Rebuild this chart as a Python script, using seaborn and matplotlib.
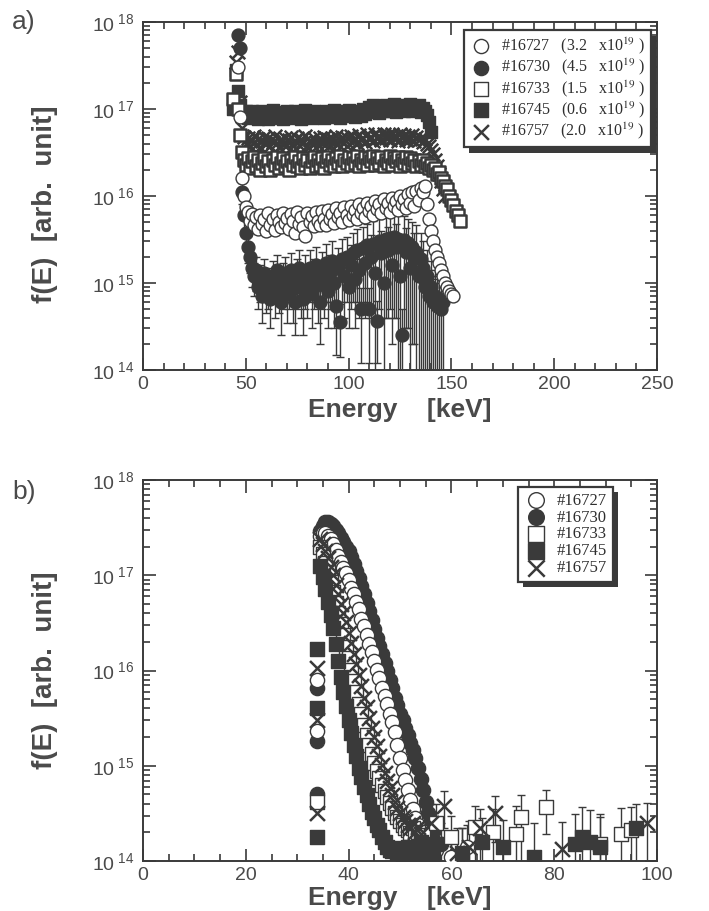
import pandas as pd
import seaborn as sns
import matplotlib.pyplot as plt
import matplotlib.patheffects as pe
from matplotlib.ticker import MultipleLocator, LogLocator, NullFormatter

# shots and line densities (x10^19)
shots = ["#16727", "#16730", "#16733", "#16745", "#16757"]
density = ["3.2", "4.5", "1.5", "0.6", "2.0"]

y_ticks = [1e14, 1e15, 1e16, 1e17, 1e18]
y_ticklabels = [r"10$^{\ 14}$", r"10$^{\ 15}$", r"10$^{\ 16}$", r"10$^{\ 17}$", r"10$^{\ 18}$"]

# ---------------- panel a) ----------------
a_grid = [44, 45, 46, 47, 48, 49,
          50, 51, 52, 53, 54, 55, 56, 57, 58, 59,
          60, 61, 62, 63, 64, 65, 66, 67, 68, 69,
          70, 71, 72, 73, 74, 75, 76, 77, 78, 79,
          80, 81, 82, 83, 84, 85, 86, 87, 88, 89,
          90, 91, 92, 93, 94, 95, 96, 97, 98, 99,
          100, 101, 102, 103, 104, 105, 106, 107, 108, 109,
          110, 111, 112, 113, 114, 115, 116, 117, 118, 119,
          120, 121, 122, 123, 124, 125, 126, 127, 128, 129,
          130, 131, 132, 133, 134, 135, 136, 137, 138, 139,
          140, 141, 142, 143, 144, 145, 146, 147, 148, 149,
          150, 151, 152, 153, 154]

a_E_16727 = a_grid[2:108]
a_f_16727 = [3.0e17, 8.0e16, 1.6e16, 1.0e16, 7.5e15,
             6.5e15, 5.2e15, 6.2e15, 4.6e15, 5.8e15, 4.2e15, 6.0e15, 4.8e15, 5.5e15, 4.0e15,
             6.3e15, 4.7e15, 5.4e15, 4.1e15, 6.1e15, 5.0e15, 4.4e15, 6.4e15, 4.9e15, 5.6e15,
             4.2e15, 6.2e15, 5.1e15, 3.8e15, 6.5e15, 4.8e15, 5.7e15, 4.4e15, 3.5e15, 6.3e15,
             5.0e15, 5.9e15, 4.5e15, 6.6e15, 5.2e15, 4.6e15, 6.8e15, 5.4e15, 4.7e15, 6.9e15,
             5.5e15, 6.2e15, 4.9e15, 7.2e15, 5.7e15, 6.4e15, 5.0e15, 7.5e15, 6.0e15, 5.3e15,
             7.6e15, 6.1e15, 6.9e15, 5.5e15, 8.0e15, 6.4e15, 7.2e15, 5.8e15, 8.4e15, 6.7e15,
             7.6e15, 6.0e15, 8.8e15, 7.0e15, 8.0e15, 6.3e15, 9.2e15, 7.3e15, 8.4e15, 6.6e15,
             9.6e15, 7.6e15, 8.8e15, 6.9e15, 1.0e16, 8.0e15, 9.2e15, 7.2e15, 1.05e16, 8.4e15,
             1.1e16, 7.6e15, 1.15e16, 9.0e15, 1.25e16, 1.1e16, 1.3e16, 8.0e15, 5.5e15, 4.0e15,
             3.0e15, 2.4e15, 2.0e15, 1.7e15, 1.4e15, 1.2e15, 1.0e15, 9.0e14, 8.0e14, 7.5e14,
             7.0e14]

a_E_16730 = a_grid[2:103]
a_f_16730 = [7.0e17, 5.0e17, 1.1e16, 6.0e15, 3.8e15,
             2.6e15, 2.0e15, 1.5e15, 1.2e15, 1.4e15, 9.0e14, 1.1e15, 7.0e14, 1.3e15, 8.5e14,
             1.0e15, 6.5e14, 1.2e15, 8.0e14, 1.4e15, 9.5e14, 6.0e14, 1.1e15, 1.3e15, 7.5e14,
             1.0e15, 1.4e15, 8.5e14, 6.0e14, 1.2e15, 1.5e15, 9.0e14, 6.5e14, 1.3e15, 1.0e15,
             1.5e15, 7.5e14, 1.2e15, 1.6e15, 9.5e14, 6.0e14, 1.4e15, 1.1e15, 1.7e15, 8.0e14,
             1.3e15, 1.8e15, 1.0e15, 5.5e14, 1.5e15, 3.6e14, 1.9e15, 1.2e15, 2.0e15, 9.0e14,
             1.6e15, 2.2e15, 1.1e15, 2.4e15, 1.4e15, 5.0e14, 2.5e15, 1.7e15, 2.7e15, 5.0e14,
             2.0e15, 2.8e15, 1.3e15, 3.7e14, 3.0e15, 2.2e15, 1.0e15, 3.2e15, 2.4e15, 3.3e15,
             1.6e15, 3.4e15, 2.6e15, 3.2e15, 1.2e15, 2.5e14, 3.1e15, 2.3e15, 2.9e15, 1.5e15,
             2.6e15, 2.0e15, 2.3e15, 1.2e15, 1.9e15, 1.5e15, 9.0e14, 1.2e15, 7.0e14, 9.0e14,
             6.0e14, 7.0e14, 5.5e14, 6.5e14, 5.0e14, 6.0e14]
a_err_16730 = [5e16, 5e16, 3e15, 2e15, 1.3e15,
               9e14, 7e14, 6e14, 5e14, 6e14, 4e14, 5e14, 3.5e14, 6e14, 4e14,
               5e14, 3.5e14, 6e14, 4e14, 7e14, 5e14, 3.5e14, 6e14, 7e14, 4e14,
               5e14, 8e14, 5e14, 3.5e14, 7e14, 9e14, 5e14, 4e14, 8e14, 6e14,
               9e14, 4.5e14, 7e14, 1.0e15, 6e14, 4e14, 9e14, 7e14, 1.1e15, 5e14,
               8e14, 1.2e15, 7e14, 4e14, 1.0e15, 2.2e14, 1.3e15, 8e14, 1.4e15, 6e14,
               1.1e15, 1.6e15, 8e14, 1.8e15, 1.0e15, 3.8e14, 1.9e15, 1.3e15, 2.1e15, 3.8e14,
               1.6e15, 2.3e15, 1.3e15, 2.5e14, 2.5e15, 1.8e15, 1.0e15, 2.8e15, 2.0e15, 2.8e15,
               1.4e15, 3.0e15, 2.2e15, 3.2e15, 1.2e15, 2.5e14, 2.8e15, 2.0e15, 2.6e15, 1.5e15,
               2.4e15, 1.8e15, 2.3e15, 1.2e15, 1.9e15, 1.5e15, 9e14, 1.2e15, 7e14, 9e14,
               6e14, 7e14, 5.5e14, 6.5e14, 5e14, 6e14]

a_E_16733 = a_grid
a_f_16733 = [1.3e17, 2.5e17, 1.0e17, 5.0e16, 3.2e16, 2.6e16,
             2.3e16, 2.7e16, 2.1e16, 2.5e16, 2.8e16, 2.2e16, 2.6e16, 2.0e16, 2.4e16, 2.7e16,
             2.2e16, 2.5e16, 2.0e16, 2.6e16, 2.3e16, 2.8e16, 2.1e16, 2.4e16, 2.7e16, 2.2e16,
             2.5e16, 2.0e16, 2.6e16, 2.3e16, 2.8e16, 2.2e16, 2.5e16, 2.1e16, 2.7e16, 2.3e16,
             2.6e16, 2.1e16, 2.5e16, 2.8e16, 2.2e16, 2.6e16, 2.3e16, 2.7e16, 2.1e16, 2.5e16,
             2.8e16, 2.3e16, 2.6e16, 2.2e16, 2.7e16, 2.4e16, 2.9e16, 2.2e16, 2.6e16, 2.4e16,
             2.8e16, 2.3e16, 2.7e16, 2.4e16, 2.9e16, 2.2e16, 2.6e16, 2.4e16, 2.8e16, 2.3e16,
             2.7e16, 2.5e16, 2.9e16, 2.3e16, 2.7e16, 2.4e16, 2.8e16, 2.2e16, 2.6e16, 2.4e16,
             2.9e16, 2.3e16, 2.7e16, 2.5e16, 2.8e16, 2.2e16, 2.6e16, 2.4e16, 2.8e16, 2.3e16,
             2.7e16, 2.4e16, 2.6e16, 2.2e16, 2.5e16, 2.3e16, 2.6e16, 2.2e16, 2.4e16, 2.1e16,
             2.3e16, 2.0e16, 2.1e16, 1.8e16, 1.9e16, 1.6e16, 1.5e16, 1.3e16, 1.2e16, 1.0e16,
             9.0e15, 7.8e15, 6.8e15, 6.0e15, 5.2e15]

a_E_16745 = a_grid[0:97]
a_f_16745 = [1.0e17, 2.8e17, 1.6e17, 1.1e17, 9.0e16,
             8.2e16, 9.4e16, 7.8e16, 8.8e16, 9.6e16, 8.0e16, 9.1e16, 7.6e16, 8.7e16, 9.5e16,
             8.1e16, 9.2e16, 7.7e16, 8.9e16, 9.7e16, 8.3e16, 7.9e16, 9.3e16, 8.5e16, 7.6e16,
             9.0e16, 9.6e16, 8.0e16, 8.8e16, 7.8e16, 9.4e16, 8.4e16, 9.1e16, 7.7e16, 8.9e16,
             9.8e16, 8.2e16, 9.0e16, 7.9e16, 9.5e16, 8.6e16, 8.0e16, 9.3e16, 8.7e16, 7.8e16,
             9.6e16, 8.4e16, 9.1e16, 8.0e16, 9.7e16, 8.5e16, 9.0e16, 7.9e16, 9.4e16, 8.8e16,
             8.2e16, 9.8e16, 8.6e16, 9.2e16, 8.1e16, 9.6e16, 8.9e16, 8.3e16, 9.9e16, 8.7e16,
             9.5e16, 1.05e17, 9.2e16, 1.1e17, 9.8e16, 1.03e17, 9.0e16, 1.08e17, 9.6e16, 1.12e17,
             9.4e16, 1.06e17, 9.9e16, 1.13e17, 9.3e16, 1.07e17, 1.0e17, 1.12e17, 9.5e16, 1.09e17,
             9.7e16, 1.13e17, 9.4e16, 1.06e17, 1.0e17, 1.1e17, 9.2e16, 1.04e17, 9.6e16, 8.5e16,
             7.0e16, 5.5e16]

a_E_16757 = a_grid[1:104]
a_f_16757 = [3.5e17, 4.5e17, 1.2e17, 6.0e16, 4.8e16,
             4.0e16, 4.6e16, 3.8e16, 4.4e16, 4.9e16, 3.9e16, 4.5e16, 3.7e16, 4.3e16, 4.8e16,
             4.0e16, 4.6e16, 3.8e16, 4.2e16, 4.9e16, 4.1e16, 3.7e16, 4.5e16, 4.0e16, 4.7e16,
             3.9e16, 4.4e16, 4.8e16, 3.8e16, 4.3e16, 4.6e16, 3.9e16, 4.5e16, 4.1e16, 4.9e16,
             3.8e16, 4.4e16, 4.0e16, 4.7e16, 4.2e16, 3.9e16, 4.6e16, 4.1e16, 4.8e16, 4.0e16,
             4.5e16, 3.9e16, 4.7e16, 4.2e16, 4.9e16, 4.0e16, 4.4e16, 4.8e16, 4.1e16, 4.6e16,
             4.0e16, 4.9e16, 4.3e16, 4.6e16, 4.1e16, 5.0e16, 4.4e16, 4.7e16, 4.2e16, 5.1e16,
             4.5e16, 4.8e16, 4.3e16, 5.2e16, 4.6e16, 4.9e16, 4.4e16, 5.1e16, 4.7e16, 5.0e16,
             4.4e16, 5.2e16, 4.6e16, 4.9e16, 4.3e16, 5.1e16, 4.7e16, 5.0e16, 4.4e16, 4.9e16,
             4.5e16, 5.0e16, 4.3e16, 4.8e16, 4.4e16, 4.7e16, 4.2e16, 4.5e16, 4.0e16, 3.8e16,
             3.4e16, 3.0e16, 2.6e16, 2.2e16, 1.8e16, 1.5e16, 1.2e16, 1.0e16]

# ---------------- panel b) ----------------
b_grid = [34.5, 35.0, 35.5, 36.0, 36.5, 37.0, 37.5, 38.0, 38.5, 39.0, 39.5, 40.0, 40.5,
          41.0, 41.5, 42.0, 42.5, 43.0, 43.5, 44.0, 44.5, 45.0, 45.5, 46.0, 46.5, 47.0,
          47.5, 48.0, 48.5, 49.0, 49.5, 50.0, 50.5, 51.0, 51.5, 52.0, 52.5, 53.0, 53.5,
          54.0, 54.5, 55.0, 55.5, 56.0, 56.5, 57.0]

b_E_16727 = b_grid[0:42]
b_f_16727 = [2.6e17, 2.8e17, 2.8e17, 2.6e17, 2.4e17, 2.15e17, 1.85e17, 1.6e17, 1.38e17,
             1.2e17, 1.05e17, 8.9e16, 7.4e16, 6.3e16, 5.2e16, 4.4e16, 3.5e16, 2.9e16, 2.35e16,
             1.9e16, 1.55e16, 1.26e16, 1.02e16, 8.3e15, 6.6e15, 5.4e15, 4.4e15, 3.5e15,
             2.9e15, 2.25e15, 1.66e15, 1.2e15, 9.1e14, 7.1e14, 5.5e14, 4.4e14, 3.5e14, 2.8e14,
             2.4e14, 2.1e14, 1.8e14, 1.6e14]

b_E_16730 = b_grid[0:45]
b_f_16730 = [2.9e17, 3.3e17, 3.6e17, 3.6e17, 3.45e17, 3.25e17, 3.0e17, 2.75e17, 2.45e17,
             2.25e17, 2.0e17, 1.78e17, 1.55e17, 1.3e17, 1.1e17, 9.3e16, 7.8e16, 6.3e16,
             5.1e16, 4.2e16, 3.4e16, 2.75e16, 2.2e16, 1.8e16, 1.5e16, 1.2e16, 9.8e15, 7.9e15,
             6.5e15, 5.2e15, 4.3e15, 3.5e15, 3.0e15, 2.5e15, 2.1e15, 1.75e15, 1.45e15,
             1.2e15, 9.5e14, 7.2e14, 5.5e14, 4.2e14, 3.2e14, 2.5e14, 2.0e14]

b_E_16733 = b_grid[0:41]
b_f_16733 = [2.0e17, 1.66e17, 1.35e17, 1.07e17, 8.5e16, 6.6e16, 5.1e16, 4.0e16, 3.1e16,
             2.35e16, 1.78e16, 1.35e16, 1.02e16, 7.8e15, 5.9e15, 4.5e15, 3.5e15, 2.7e15,
             2.1e15, 1.66e15, 1.32e15, 1.07e15, 8.9e14, 7.4e14, 6.3e14, 5.4e14, 4.7e14,
             4.1e14, 3.6e14, 3.2e14, 2.9e14, 2.6e14, 2.4e14, 2.24e14, 2.1e14, 1.95e14,
             2.2e14, 1.8e14, 2.0e14, 1.66e14, 1.86e14]

b_E_16745 = b_grid
b_f_16745 = [1.26e17, 9.5e16, 7.1e16, 5.2e16, 3.8e16, 2.8e16, 1.9e16, 1.26e16, 8.5e15, 5.9e15,
             4.2e15, 3.0e15, 2.2e15, 1.66e15, 1.26e15, 9.5e14, 7.6e14, 6.0e14, 4.9e14, 4.0e14,
             3.3e14, 2.8e14, 2.4e14, 2.1e14, 1.8e14, 1.58e14, 1.41e14, 1.32e14, 1.26e14,
             1.38e14, 1.2e14, 1.32e14, 1.15e14, 1.26e14, 1.41e14, 1.2e14, 1.35e14, 1.12e14,
             1.32e14, 1.58e14, 1.26e14, 1.45e14, 1.15e14, 1.38e14, 1.2e14, 1.5e14]

b_E_16757 = b_grid[0:40]
b_f_16757 = [2.4e17, 2.15e17, 1.8e17, 1.5e17, 1.23e17, 1.0e17, 7.9e16, 6.3e16, 5.0e16, 4.0e16,
             3.2e16, 2.5e16, 1.95e16, 1.5e16, 1.17e16, 8.9e15, 6.9e15, 5.2e15, 4.1e15, 3.2e15,
             2.5e15, 2.0e15, 1.6e15, 1.26e15, 1.02e15, 8.3e14, 6.9e14, 5.8e14, 4.9e14, 4.2e14,
             3.6e14, 3.2e14, 2.9e14, 2.6e14, 2.4e14, 2.2e14, 2.5e14, 2.0e14, 2.3e14, 1.9e14]

# isolated first bins near 34 keV
b_col_E_16727 = [33.8, 33.8]
b_col_f_16727 = [8.0e15, 2.3e15]
b_col_E_16730 = [33.8, 33.8, 33.8]
b_col_f_16730 = [6.6e15, 1.8e15, 5.0e14]
b_col_E_16733 = [33.8]
b_col_f_16733 = [4.2e14]
b_col_E_16745 = [33.8, 33.8, 33.8]
b_col_f_16745 = [1.7e16, 4.0e15, 1.8e14]
b_col_E_16757 = [33.8, 33.8, 33.8]
b_col_f_16757 = [1.07e16, 3.0e15, 3.2e14]

# high energy tail with error bars
b_tail_E_16727 = [57, 60, 63]
b_tail_f_16727 = [1.3e14, 1.1e14, 1.4e14]
b_tail_err_16727 = [8e13, 8e13, 1e14]
b_tail_E_16730 = [58, 62]
b_tail_f_16730 = [1.5e14, 1.2e14]
b_tail_err_16730 = [1e14, 1e14]
b_tail_E_16733 = [57, 60, 64.5, 68, 72.5, 73.5, 78.5, 89, 93, 95]
b_tail_f_16733 = [2.5e14, 1.8e14, 2.3e14, 2.0e14, 1.9e14, 2.9e14, 3.7e14, 1.5e14, 1.9e14, 2.1e14]
b_tail_err_16733 = [1.5e14, 1.2e14, 1.5e14, 1.5e14, 1.9e14, 2.0e14, 1.8e14, 1.6e14, 1.7e14, 1.6e14]
b_tail_E_16745 = [62, 66, 70, 76, 84, 85.5, 87, 89, 96]
b_tail_f_16745 = [1.2e14, 1.6e14, 1.4e14, 1.1e14, 1.5e14, 1.8e14, 1.6e14, 1.4e14, 2.2e14]
b_tail_err_16745 = [1e14, 1.2e14, 1.3e14, 1.4e14, 1.6e14, 1.9e14, 1.8e14, 1.5e14, 1.8e14]
b_tail_E_16757 = [56, 58.5, 61, 63.5, 65.5, 68.5, 81.5, 98]
b_tail_f_16757 = [2.5e14, 3.8e14, 1.2e14, 1.4e14, 2.2e14, 3.2e14, 1.35e14, 2.5e14]
b_tail_err_16757 = [1.5e14, 1.6e14, 1e14, 1.2e14, 1.3e14, 1.6e14, 1.2e14, 1.6e14]

DARK = "#3a3a3a"
TEXT = "#4a4a4a"

# marker and face colour per shot
marker_style = {
    "#16727": ("o", "white"),
    "#16730": ("o", DARK),
    "#16733": ("s", "white"),
    "#16745": ("s", DARK),
    "#16757": ("x", DARK),
}

a_series = {
    "#16727": (a_E_16727, a_f_16727, None),
    "#16730": (a_E_16730, a_f_16730, a_err_16730),
    "#16733": (a_E_16733, a_f_16733, None),
    "#16745": (a_E_16745, a_f_16745, None),
    "#16757": (a_E_16757, a_f_16757, None),
}
b_series = {
    "#16727": [(b_E_16727, b_f_16727, None), (b_col_E_16727, b_col_f_16727, None),
               (b_tail_E_16727, b_tail_f_16727, b_tail_err_16727)],
    "#16730": [(b_E_16730, b_f_16730, None), (b_col_E_16730, b_col_f_16730, None),
               (b_tail_E_16730, b_tail_f_16730, b_tail_err_16730)],
    "#16733": [(b_E_16733, b_f_16733, None), (b_col_E_16733, b_col_f_16733, None),
               (b_tail_E_16733, b_tail_f_16733, b_tail_err_16733)],
    "#16745": [(b_E_16745, b_f_16745, None), (b_col_E_16745, b_col_f_16745, None),
               (b_tail_E_16745, b_tail_f_16745, b_tail_err_16745)],
    "#16757": [(b_E_16757, b_f_16757, None), (b_col_E_16757, b_col_f_16757, None),
               (b_tail_E_16757, b_tail_f_16757, b_tail_err_16757)],
}

sns.set_theme(style="ticks")
plt.rcParams["font.family"] = ["Liberation Sans", "DejaVu Sans"]
plt.rcParams["mathtext.fontset"] = "custom"
plt.rcParams["mathtext.rm"] = "Liberation Sans"
plt.rcParams["mathtext.it"] = "Liberation Sans:italic"
plt.rcParams["mathtext.bf"] = "Liberation Sans:bold"

fig = plt.figure(figsize=(7.09, 9.11), dpi=100)
ax_a = fig.add_axes([143 / 709, 1 - 370 / 911, 514 / 709, 348 / 911])
ax_b = fig.add_axes([143 / 709, 1 - 861 / 911, 514 / 709, 381 / 911])


def draw_points(ax, shot, E, f, err, size, z, label=None, lw=1.0):
    m, face = marker_style[shot]
    df = pd.DataFrame({"E": E, "f": f})
    if err is not None:
        ax.errorbar(E, f, yerr=err, fmt="none", ecolor=DARK, elinewidth=1.0,
                    capsize=3, capthick=1.0, zorder=2)
    if m == "x":
        sns.scatterplot(data=df, x="E", y="f", ax=ax, marker="x", s=size * 1.1,
                        color=DARK, linewidth=1.8, zorder=z, label=label, legend=False)
    else:
        sns.scatterplot(data=df, x="E", y="f", ax=ax, marker=m, s=size,
                        color=face, edgecolor=DARK, linewidth=lw, zorder=z,
                        label=label, legend=False)


def style_axes(ax, xmax, major, minor):
    ax.set_yscale("log")
    ax.set_xlim(0, xmax)
    ax.set_ylim(1e14, 1e18)
    ax.xaxis.set_major_locator(MultipleLocator(major))
    ax.xaxis.set_minor_locator(MultipleLocator(minor))
    ax.set_yticks(y_ticks)
    ax.set_yticklabels(y_ticklabels)
    ax.yaxis.set_minor_locator(LogLocator(base=10, subs=range(2, 10), numticks=20))
    ax.yaxis.set_minor_formatter(NullFormatter())
    ax.tick_params(which="both", direction="in", top=True, right=True,
                   color=DARK, labelcolor=TEXT, labelsize=14, width=1.2)
    ax.tick_params(which="major", length=9)
    ax.tick_params(which="minor", length=5)
    ax.tick_params(axis="y", which="major", pad=6)
    ax.tick_params(axis="x", which="major", pad=4)
    for sp in ax.spines.values():
        sp.set_linewidth(1.4)
        sp.set_color(DARK)
    ax.set_xlabel("Energy    [keV]", fontsize=19, fontweight="bold", color=TEXT)
    ax.set_ylabel("f(E)  [arb.  unit]", fontsize=20, fontweight="bold", color=TEXT)


def add_legend(ax, labels, anchor, fontsize):
    handles, names = ax.get_legend_handles_labels()
    order = [names.index(lab) for lab in labels]
    leg = ax.legend([handles[i] for i in order], [names[i] for i in order],
                    loc="upper right", bbox_to_anchor=anchor, borderaxespad=0,
                    prop={"family": "Liberation Serif", "size": fontsize},
                    frameon=True, fancybox=False, framealpha=1, edgecolor=DARK,
                    handletextpad=0.5, labelspacing=0.05, borderpad=0.35,
                    handlelength=1.5, markerscale=1.1)
    leg.get_frame().set_linewidth(1.6)
    leg.get_frame().set_path_effects([
        pe.SimplePatchShadow(offset=(4, -4), shadow_rgbFace=DARK, alpha=1),
        pe.Normal()])
    # legend rows follow the shots list; keep the X thick, the outlines thin
    for shot, h in zip(shots, leg.legend_handles):
        h.set_linewidth(1.8 if shot == "#16757" else 1.0)
    for t in leg.get_texts():
        t.set_color("#2e2e2e")
        t.set_math_fontfamily("stix")
    return leg


style_axes(ax_a, 250, 50, 10)
style_axes(ax_b, 100, 20, 5)

draw_order = ["#16745", "#16757", "#16733", "#16730", "#16727"]
a_labels = [f"{s}   ({d}   x10$^{{19}}$ )" for s, d in zip(shots, density)]
for k, shot in enumerate(draw_order):
    E, f, err = a_series[shot]
    lab = a_labels[shots.index(shot)]
    lw = 1.8 if shot == "#16733" else 1.0
    draw_points(ax_a, shot, E, f, err, 86, 3 + k, label=lab, lw=lw)

b_order = ["#16730", "#16727", "#16733", "#16757", "#16745"]
for k, shot in enumerate(b_order):
    for j, (E, f, err) in enumerate(b_series[shot]):
        draw_points(ax_b, shot, E, f, err, 105, 3 + k, label=shot if j == 0 else None)

add_legend(ax_a, a_labels, (0.988, 0.977), 11.5)
add_legend(ax_b, shots, (0.914, 0.982), 12)

ax_a.xaxis.set_label_coords(0.5, -0.08)
ax_b.xaxis.set_label_coords(0.5, -0.066)
ax_a.yaxis.set_label_coords(-0.165, 0.475)
ax_b.yaxis.set_label_coords(-0.165, 0.5)

fig.text(12 / 709, 1 - 22 / 911, "a)", fontsize=19, color=TEXT, va="center")
fig.text(12 / 709, 1 - 492 / 911, "b)", fontsize=19, color=TEXT, va="center")

fig.savefig("out.png", dpi=100)
